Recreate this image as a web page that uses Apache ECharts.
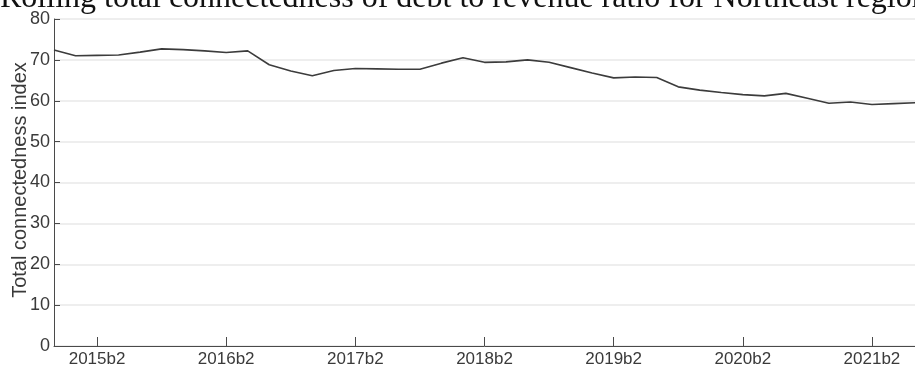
<!DOCTYPE html>
<html>
<head>
<meta charset="utf-8">
<script src="https://cdn.jsdelivr.net/npm/echarts@6/dist/echarts.min.js"></script>
<style>
  html, body { margin: 0; padding: 0; background: #fff; }
  #chart { width: 915px; height: 374px; }
</style>
</head>
<body>
<div id="chart"></div>
<script>
// Bimonthly periods (bN = N-th two-month block of the year)
const periods = [
  '2014b6',
  '2015b1','2015b2','2015b3','2015b4','2015b5','2015b6',
  '2016b1','2016b2','2016b3','2016b4','2016b5','2016b6',
  '2017b1','2017b2','2017b3','2017b4','2017b5','2017b6',
  '2018b1','2018b2','2018b3','2018b4','2018b5','2018b6',
  '2019b1','2019b2','2019b3','2019b4','2019b5','2019b6',
  '2020b1','2020b2','2020b3','2020b4','2020b5','2020b6',
  '2021b1','2021b2','2021b3','2021b4'
];

// Rolling total connectedness index
const totalConnectedness = [
  72.4,
  71.0, 71.1, 71.2, 71.9, 72.7, 72.5,
  72.2, 71.8, 72.2, 68.8, 67.3, 66.1,
  67.4, 67.9, 67.8, 67.7, 67.7, 69.2,
  70.5, 69.4, 69.5, 70.0, 69.4, 68.1,
  66.8, 65.6, 65.8, 65.7, 63.4, 62.6,
  62.0, 61.5, 61.2, 61.8, 60.6, 59.4,
  59.7, 59.1, 59.3, 59.5
];

// Labelled periods on the x axis
const tickPeriods = ['2015b2','2016b2','2017b2','2018b2','2019b2','2020b2','2021b2'];

const titleText = 'Rolling total connectedness of debt to revenue ratio for Northeast region';
const yAxisTitle = 'Total connectedness index';

const isTick = (idx) => tickPeriods.indexOf(periods[idx]) !== -1;

const chart = echarts.init(document.getElementById('chart'), null, { renderer: 'canvas' });

chart.setOption({
  animation: false,
  backgroundColor: '#ffffff',
  grid: { left: 54, top: 19, width: 870.8, height: 327, containLabel: false },
  graphic: [
    {
      type: 'text',
      left: 0,
      top: -17,
      style: {
        text: titleText,
        font: '32px "Liberation Serif", "Times New Roman", serif',
        fill: '#111111'
      }
    },
    {
      type: 'text',
      x: 20,
      y: 180,
      rotation: Math.PI / 2,
      style: {
        text: yAxisTitle,
        font: '20px "Liberation Sans", Arial, sans-serif',
        fill: '#3a3a3a',
        align: 'center',
        verticalAlign: 'middle'
      }
    }
  ],
  xAxis: {
    type: 'category',
    data: periods,
    boundaryGap: false,
    axisLine: { show: true, lineStyle: { color: '#4a4a4a', width: 1 } },
    axisTick: {
      show: true,
      inside: true,
      length: 9,
      interval: (idx) => isTick(idx),
      lineStyle: { color: '#4a4a4a' }
    },
    axisLabel: {
      interval: (idx) => isTick(idx),
      color: '#3a3a3a',
      fontFamily: '"Liberation Sans", Arial, sans-serif',
      fontSize: 17,
      margin: 5
    },
    splitLine: { show: false }
  },
  yAxis: {
    type: 'value',
    min: 0,
    max: 80,
    interval: 10,
    axisLine: { show: true, lineStyle: { color: '#4a4a4a', width: 1 } },
    axisTick: { show: true, inside: true, length: 6, lineStyle: { color: '#4a4a4a' } },
    axisLabel: {
      color: '#3a3a3a',
      fontFamily: '"Liberation Sans", Arial, sans-serif',
      fontSize: 18,
      margin: 4
    },
    splitLine: { show: true, lineStyle: { color: '#e9e9e9', width: 1.5 } }
  },
  series: [
    {
      type: 'line',
      data: totalConnectedness,
      showSymbol: false,
      smooth: false,
      lineStyle: { color: '#3c3c3c', width: 1.6 },
      z: 3
    }
  ]
});
</script>
</body>
</html>
